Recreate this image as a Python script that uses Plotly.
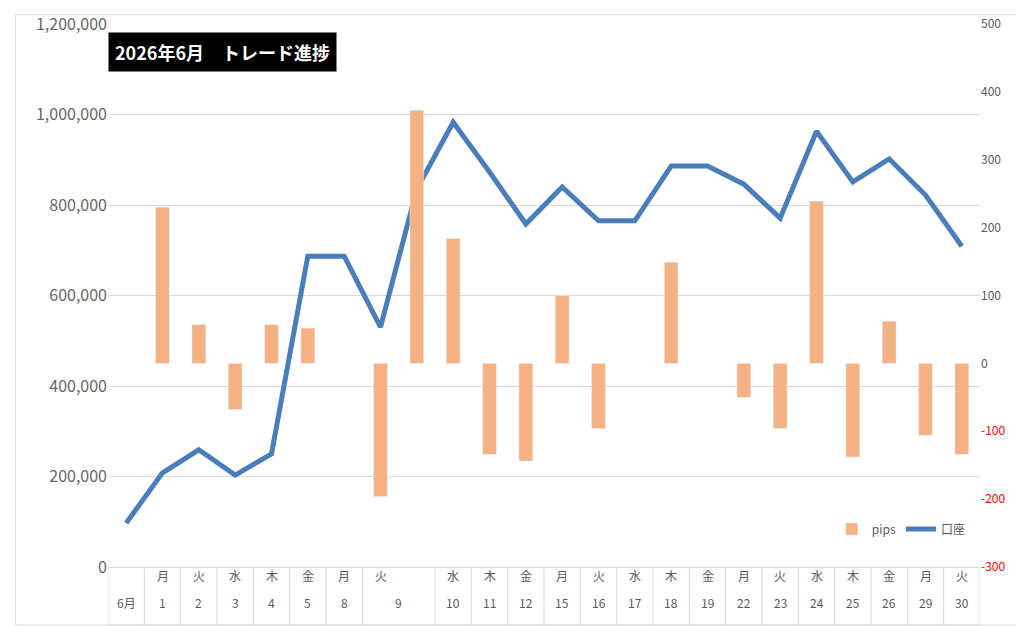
import plotly.graph_objects as go

weekdays = ["", "月", "火", "水", "木", "金", "月", "火", "", "水", "木", "金", "月", "火", "水", "木", "金", "月", "火", "水", "木", "金", "月", "火"]
days = ["6月", "1", "2", "3", "4", "5", "8", "9", "", "10", "11", "12", "15", "16", "17", "18", "19", "22", "23", "24", "25", "26", "29", "30"]
account = [97000, 208000, 259000, 203000, 250000, 687000, 687000, 530000, 835000, 983000, 873000, 758000, 840000, 765000, 765000, 886000, 886000, 846000, 771000, 963000, 851000, 902000, 822000, 709000]
pips = [None, 230, 57, -68, 57, 52, None, -196, 373, 184, -134, -144, 100, -96, None, 149, None, -50, -96, 239, -138, 62, -106, -134]
left_ticks = [0, 200000, 400000, 600000, 800000, 1000000, 1200000]
right_ticks = [-300, -200, -100, 0, 100, 200, 300, 400, 500]

x = list(range(len(days)))
font = "Noto Sans CJK JP, Noto Sans, sans-serif"
gray = "#595959"

fig = go.Figure()
fig.add_bar(x=x, y=pips, name="pips", marker_color="#F4B183", yaxis="y2", width=0.38)
fig.add_scatter(x=x, y=account, name="口座", mode="lines", line=dict(color="#4A7EBB", width=5))

shapes = []
for i in range(len(days) + 1):
    if i == 8:
        continue
    shapes.append(dict(type="line", xref="x", yref="paper", x0=i - 0.5, x1=i - 0.5, y0=0, y1=-0.107,
                       line=dict(color="#D9D9D9", width=1)))
shapes.append(dict(type="line", xref="x", yref="paper", x0=-0.5, x1=len(days) - 0.5, y0=-0.107, y1=-0.107,
                   line=dict(color="#D9D9D9", width=1)))
shapes.append(dict(type="rect", xref="paper", yref="paper", x0=-0.106, x1=1.05, y0=-0.107, y1=1.017,
                   line=dict(color="#D9D9D9", width=1)))

ann = []
for i, w in enumerate(weekdays):
    if w:
        ann.append(dict(x=i, y=-0.035, xref="x", yref="paper", text=w, showarrow=False,
                        font=dict(size=12, color=gray, family=font)))
for i, d in enumerate(days):
    if not d:
        continue
    xx = 7.5 if d == "9" else i
    ann.append(dict(x=xx, y=-0.085, xref="x", yref="paper", text=d, showarrow=False,
                    font=dict(size=12, color=gray, family=font)))
ann.append(dict(x=0.0, y=0.985, xref="paper", yref="paper", xanchor="left", yanchor="top",
                text="<b>2026年6月　トレード進捗</b>", showarrow=False, bgcolor="black",
                font=dict(size=18, color="white", family=font), borderpad=6))

rt_text = [f"<span style='color:red'>{v}</span>" if v < 0 else str(v) for v in right_ticks]

fig.update_layout(
    width=1024, height=626, margin=dict(l=100, r=52, t=16, b=67, autoexpand=False),
    plot_bgcolor="white", paper_bgcolor="white",
    font=dict(family=font, color=gray),
    xaxis=dict(range=[-0.5, len(days) - 0.5], showticklabels=False, showgrid=False, zeroline=False,
               showline=True, linecolor="#D9D9D9"),
    yaxis=dict(range=[0, 1200000], tickvals=left_ticks, ticktext=[f"{v:,}" for v in left_ticks],
               gridcolor="#D9D9D9", zeroline=False, tickfont=dict(size=16, color="#666666"), ticks=""),
    yaxis2=dict(range=[-300, 500], tickvals=right_ticks, ticktext=rt_text, overlaying="y", side="right",
                showgrid=False, zeroline=False, tickfont=dict(size=12, color=gray)),
    legend=dict(orientation="h", x=0.83, y=0.07, xanchor="left", yanchor="middle",
                font=dict(size=12, color=gray), bgcolor="rgba(0,0,0,0)"),
    shapes=shapes, annotations=ann, bargap=0.6,
)
fig.write_html("out.html")
